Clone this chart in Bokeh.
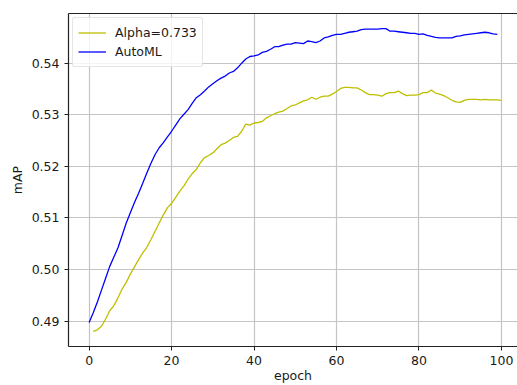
from bokeh.plotting import figure
from bokeh.models import Range1d, FixedTicker, Legend, LegendItem, NumeralTickFormatter, LinearAxis
from bokeh.embed import file_html
from bokeh.resources import INLINE

# ---- data ----
automl_epochs = list(range(0, 100))
automl_map = [
    0.4897, 0.4916, 0.4937, 0.4960, 0.4983, 0.5006, 0.5024, 0.5042, 0.5066, 0.5090,
    0.5110, 0.5130, 0.5148, 0.5167, 0.5187, 0.5206, 0.5223, 0.5236, 0.5246, 0.5257,
    0.5268, 0.5280, 0.5292, 0.5301, 0.5310, 0.5322, 0.5333, 0.5339, 0.5346, 0.5354,
    0.5360, 0.5366, 0.5371, 0.5375, 0.5381, 0.5384, 0.5391, 0.5400, 0.5408, 0.5413,
    0.5414, 0.5416, 0.5421, 0.5423, 0.5427, 0.5432, 0.5432, 0.5435, 0.5437, 0.5437,
    0.5440, 0.5439, 0.5438, 0.5443, 0.5442, 0.5440, 0.5443, 0.5449, 0.5451, 0.5454,
    0.5456, 0.5456, 0.5458, 0.5460, 0.5461, 0.5462, 0.5465, 0.5466, 0.5466, 0.5466,
    0.5466, 0.5467, 0.5467, 0.5462, 0.5462, 0.5461, 0.5460, 0.5459, 0.5458, 0.5458,
    0.5456, 0.5457, 0.5454, 0.5452, 0.5450, 0.5449, 0.5449, 0.5449, 0.5449, 0.5452,
    0.5453, 0.5455, 0.5456, 0.5457, 0.5458, 0.5459, 0.5460, 0.5459, 0.5457, 0.5456,
]
alpha_epochs = list(range(1, 101))
alpha_map = [
    0.4880, 0.4883, 0.4890, 0.4904, 0.4920, 0.4930, 0.4945, 0.4962, 0.4975, 0.4991,
    0.5005, 0.5019, 0.5032, 0.5043, 0.5058, 0.5074, 0.5090, 0.5106, 0.5120, 0.5128,
    0.5140, 0.5152, 0.5162, 0.5175, 0.5186, 0.5194, 0.5207, 0.5217, 0.5221, 0.5226,
    0.5234, 0.5242, 0.5245, 0.5250, 0.5256, 0.5258, 0.5268, 0.5282, 0.5280, 0.5284,
    0.5285, 0.5287, 0.5294, 0.5298, 0.5302, 0.5305, 0.5307, 0.5312, 0.5317, 0.5319,
    0.5323, 0.5327, 0.5329, 0.5334, 0.5330, 0.5334, 0.5336, 0.5336, 0.5340, 0.5345,
    0.5351, 0.5353, 0.5353, 0.5352, 0.5352, 0.5348, 0.5343, 0.5339, 0.5339, 0.5338,
    0.5336, 0.5341, 0.5343, 0.5343, 0.5346, 0.5341, 0.5337, 0.5338, 0.5338, 0.5339,
    0.5343, 0.5343, 0.5348, 0.5342, 0.5340, 0.5337, 0.5333, 0.5328, 0.5325, 0.5324,
    0.5328, 0.5330, 0.5330, 0.5330, 0.5329, 0.5330, 0.5329, 0.5329, 0.5329, 0.5328,
]
x_ticks = [0, 20, 40, 60, 80, 100]
y_ticks = [0.49, 0.50, 0.51, 0.52, 0.53, 0.54]
alpha_label = "Alpha=0.733"
automl_label = "AutoML"

# matplotlib-like 5% margins (right side cropped, as in the reference picture)
xmin = min(automl_epochs + alpha_epochs)
xmax = max(automl_epochs + alpha_epochs)
ymin = min(automl_map + alpha_map)
ymax = max(automl_map + alpha_map)
xm_left = (xmax - xmin) * 0.05
xm_right = (xmax - xmin) * 0.039
ym = (ymax - ymin) * 0.05

FONT = "DejaVu Sans"
FS = "12.5px"
TXT = "#1a1a1a"
SPINE = "#222222"

p = figure(width=517, height=385, output_backend="svg", toolbar_location=None,
           x_range=Range1d(xmin - xm_left, xmax + xm_right),
           y_range=Range1d(ymin - ym, ymax + ym),
           min_border_left=68, min_border_right=0, min_border_top=13, min_border_bottom=38,
           outline_line_color=None)
p.background_fill_color = "white"
p.border_fill_color = "white"
p.outline_line_alpha = 0
p.outline_line_width = 0

for ax in (p.xaxis[0], p.yaxis[0]):
    ax.axis_line_color = SPINE
    ax.axis_line_width = 1.2
    ax.major_tick_line_color = SPINE
    ax.major_tick_out = 4
    ax.major_tick_in = 0
    ax.minor_tick_line_color = None
    ax.major_label_text_font = FONT
    ax.major_label_text_font_size = FS
    ax.major_label_text_color = TXT
    ax.axis_label_text_font = FONT
    ax.axis_label_text_font_size = FS
    ax.axis_label_text_font_style = "normal"
    ax.axis_label_text_color = TXT

p.xaxis.major_label_standoff = 5
p.xaxis.axis_label_standoff = 0
p.yaxis.major_label_standoff = 5
p.yaxis.axis_label_standoff = 4

p.xaxis.ticker = FixedTicker(ticks=x_ticks)
p.yaxis.ticker = FixedTicker(ticks=y_ticks)
p.yaxis.formatter = NumeralTickFormatter(format="0.00")
p.xaxis.axis_label = "epoch"
p.yaxis.axis_label = "mAP"

# top spine
top = LinearAxis(ticker=FixedTicker(ticks=[]), major_label_text_font_size="0px",
                 axis_line_color=SPINE, axis_line_width=1.2,
                 major_tick_line_color=None, minor_tick_line_color=None)
p.add_layout(top, "above")

p.xgrid.ticker = FixedTicker(ticks=x_ticks)
p.ygrid.ticker = FixedTicker(ticks=y_ticks)
for g in (p.xgrid[0], p.ygrid[0]):
    g.grid_line_color = "#c4c4c4"
    g.grid_line_width = 1.2

r_alpha = p.line(alpha_epochs, alpha_map, line_color="#bfbf00", line_width=1.3)
r_auto = p.line(automl_epochs, automl_map, line_color="#0000ff", line_width=1.3)

legend = Legend(items=[LegendItem(label=alpha_label, renderers=[r_alpha]),
                       LegendItem(label=automl_label, renderers=[r_auto])],
                location="top_left")
legend.label_text_font = FONT
legend.label_text_font_size = FS
legend.label_text_color = TXT
legend.border_line_color = "#cccccc"
legend.border_line_width = 1
legend.border_radius = 3
legend.background_fill_alpha = 0.8
legend.margin = 4
legend.padding = 5
legend.spacing = 0
legend.glyph_width = 28
legend.glyph_height = 19
legend.label_height = 19
legend.label_standoff = 9
p.add_layout(legend, "center")

open("out.html", "w").write(file_html(p, INLINE))
